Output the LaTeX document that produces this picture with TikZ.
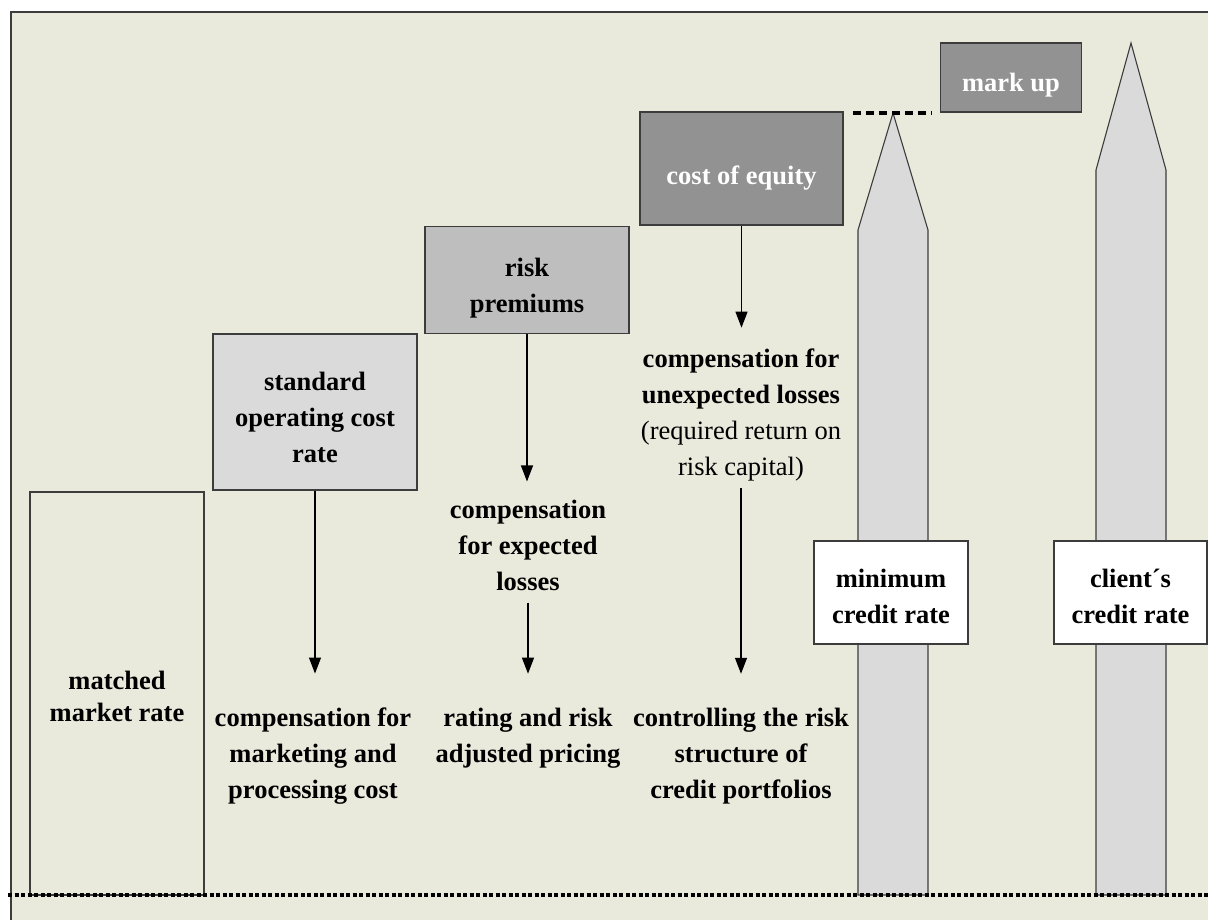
\documentclass[tikz,border=0pt]{standalone}
\usepackage{fontspec}
\setmainfont{Liberation Serif}
\usetikzlibrary{arrows.meta}
\definecolor{paper}{HTML}{E9E9DC}
\definecolor{edge}{HTML}{3C3C3C}
\definecolor{palegray}{HTML}{DADADA}
\definecolor{midgray}{HTML}{BEBEBE}
\definecolor{darkgray}{HTML}{929292}
\newcommand\dropby[1]{\rule{0pt}{#1pt}}

\begin{document}
\begin{tikzpicture}[x=1pt,y=-1pt,
        rate/.style={draw=edge, line width=1.1pt, align=center, inner sep=0pt,
            font=\bfseries\fontsize{26.5}{36}\selectfont},
        effect/.style={align=center, inner sep=3pt, font=\bfseries\fontsize{26.5}{36}\selectfont},
        spike/.style={draw=edge, line width=1.1pt, fill=palegray},
        arr/.style={-{Triangle[length=16pt,width=12pt]}, line width=1.1pt}]
                \useasboundingbox (0,0) rectangle (1208,919);
                \fill[paper] (11,12) rectangle (1210,921);
                \draw[edge, line width=1.4pt] (11,921) -- (11,12) -- (1210,12);

                \draw[spike] (858,895) -- (858,230) -- (893,113) -- (928,230) -- (928,895) -- cycle;
                \draw[spike] (1096,895) -- (1096,170) -- (1131,43) -- (1166,170) -- (1166,895) -- cycle;

                \node[rate, minimum width=174, minimum height=403, font=\bfseries\fontsize{26.5}{32}\selectfont] (matched) at (117,693.5) {\dropby{24}matched\\market rate};
                \node[rate, fill=palegray, minimum width=204, minimum height=156] (opcost) at (315,412) {\dropby{30}standard\\operating cost\\rate};
                \node[rate, fill=midgray, minimum width=204, minimum height=107] (riskprem) at (527,280) {\dropby{34}risk\\premiums};
                \node[rate, fill=darkgray, text=white, minimum width=203, minimum height=113] (equity) at (741.5,168.5) {\dropby{38}cost of equity};
                \node[rate, fill=darkgray, text=white, minimum width=141, minimum height=69] (markup) at (1011,77.5) {\dropby{34}mark up};
                \node[rate, fill=white, minimum width=154, minimum height=103] (minrate) at (891,592.5) {\dropby{26}minimum\\credit rate};
                \node[rate, fill=white, minimum width=153, minimum height=103] (clientrate) at (1130.5,592.5) {\dropby{26}client´s\\credit rate};

                \node[effect] (marketing) at (313,756) {compensation for\\marketing and\\processing cost};
                \node[effect] (expected) at (528,545) {compensation\\for expected\\losses};
                \node[effect] (pricing) at (528,738) {rating and risk\\adjusted pricing};
                \node[effect] (unexpected) at (741,415) {compensation for\\unexpected losses\\{\mdseries(required return on}\\{\mdseries risk capital)}};
                \node[effect] (portfolio) at (741,756) {controlling the risk\\structure of\\credit portfolios};

                \draw[arr, shorten >=31pt] (opcost.south) -- (opcost.south |- marketing.north);
                \draw[arr, shorten >=15pt] (riskprem.south) -- (riskprem.south |- expected.north);
                \draw[arr, shorten <=9pt, shorten >=31pt] (expected.south) -- (expected.south |- pricing.north);
                \draw[arr, shorten >=18pt] (equity.south) -- (equity.south |- unexpected.north);
                \draw[arr, shorten <=4pt, shorten >=31pt] (unexpected.south) -- (unexpected.south |- portfolio.north);

                \draw[line width=3.2pt, dash pattern=on 8pt off 5pt] (853,113) -- (932,113);
                \draw[line width=3.6pt, dash pattern=on 4pt off 2.5pt] (8,895) -- (1208,895);
            \end{tikzpicture}
\end{document}
